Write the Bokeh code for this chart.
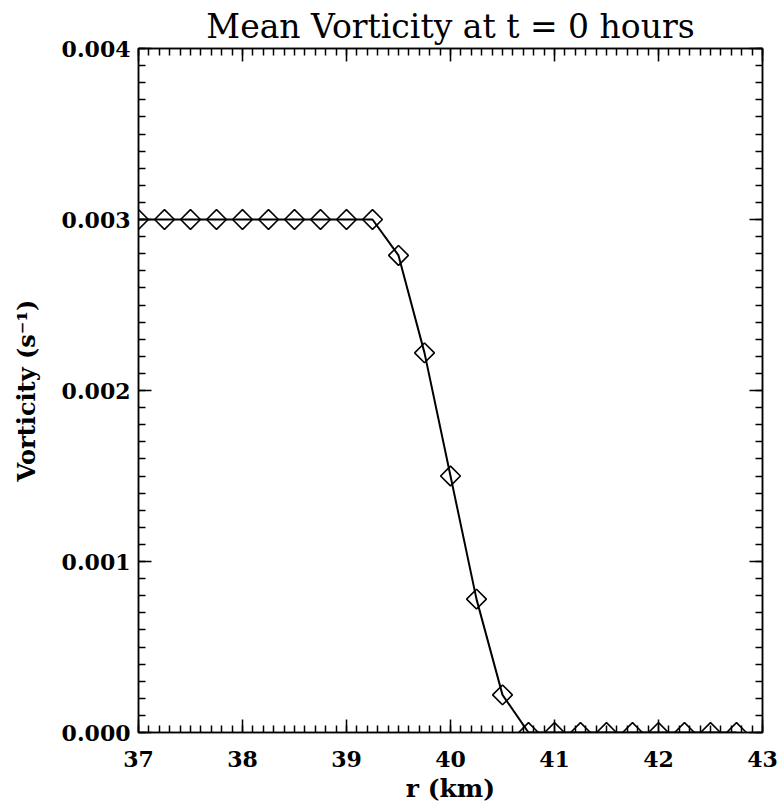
import numpy as np
from bokeh.plotting import figure
from bokeh.models import (Range1d, LinearAxis, SingleIntervalTicker,
                          PrintfTickFormatter, CustomJSTickFormatter)
from bokeh.embed import file_html
from bokeh.resources import INLINE

# ---- data ----
r_km = [37.0, 37.25, 37.5, 37.75, 38.0, 38.25, 38.5, 38.75, 39.0, 39.25,
        39.5, 39.75, 40.0, 40.25, 40.5,
        40.75, 41.0, 41.25, 41.5, 41.75, 42.0, 42.25, 42.5, 42.75]
vorticity = [0.003, 0.003, 0.003, 0.003, 0.003, 0.003, 0.003, 0.003, 0.003, 0.003,
             0.00279, 0.00222, 0.00150, 0.00078, 0.00022,
             0.0, 0.0, 0.0, 0.0, 0.0, 0.0, 0.0, 0.0, 0.0]
x_major_step = 1.0
y_major_step = 0.001
title_text = "Mean Vorticity at t = 0 hours"
x_label = "r (km)"
y_label = "Vorticity (s\u207b\u00b9)"

SERIF = "DejaVu Serif"

p = figure(width=782, height=810, output_backend="svg", toolbar_location=None,
           x_range=Range1d(37, 43), y_range=Range1d(0, 0.004),
           min_border_left=138, min_border_right=20, min_border_top=48,
           min_border_bottom=78)

p.title.text = title_text
p.title.text_font = SERIF
p.title.text_font_style = "normal"
p.title.text_font_size = "33px"
p.title.align = "center"
p.title.text_color = "black"
p.title.offset = 0
p.title.standoff = 6

p.xgrid.visible = False
p.ygrid.visible = False
p.outline_line_color = "black"
p.outline_line_width = 1.5
p.background_fill_color = "white"
p.border_fill_color = "white"

def style_axis(ax, step, labels=True):
    ax.ticker = SingleIntervalTicker(interval=step, num_minor_ticks=10)
    ax.axis_line_color = "black"
    ax.axis_line_width = 1.5
    ax.major_tick_line_color = "black"
    ax.major_tick_line_width = 1.5
    ax.minor_tick_line_color = "black"
    ax.minor_tick_line_width = 1.5
    ax.major_tick_in = 13
    ax.major_tick_out = 0
    ax.minor_tick_in = 7
    ax.minor_tick_out = 0
    ax.major_label_text_font = SERIF
    ax.major_label_text_font_style = "bold"
    ax.major_label_text_color = "black"
    ax.major_label_text_font_size = "22px"
    ax.axis_label_text_font = SERIF
    ax.axis_label_text_font_style = "bold"
    ax.axis_label_text_color = "black"
    if not labels:
        ax.formatter = CustomJSTickFormatter(code="return '';")
        ax.major_label_standoff = 0

xa = p.xaxis[0]
style_axis(xa, x_major_step)
xa.axis_label = x_label
xa.axis_label_text_font_size = "25px"
xa.major_label_standoff = 18
xa.axis_label_standoff = 4

ya = p.yaxis[0]
style_axis(ya, y_major_step)
ya.formatter = PrintfTickFormatter(format="%.3f")
ya.axis_label = y_label
ya.axis_label_text_font_size = "24px"
ya.major_label_standoff = 8
ya.axis_label_standoff = 18

top = LinearAxis()
style_axis(top, x_major_step, labels=False)
p.add_layout(top, "above")
right = LinearAxis()
style_axis(right, y_major_step, labels=False)
p.add_layout(right, "right")

p.line(r_km, vorticity, line_color="black", line_width=2)
p.scatter(r_km, vorticity, marker="square", angle=np.pi / 4, size=14,
          fill_alpha=0, line_color="black", line_width=1.6)

open("out.html", "w").write(file_html(p, INLINE))
